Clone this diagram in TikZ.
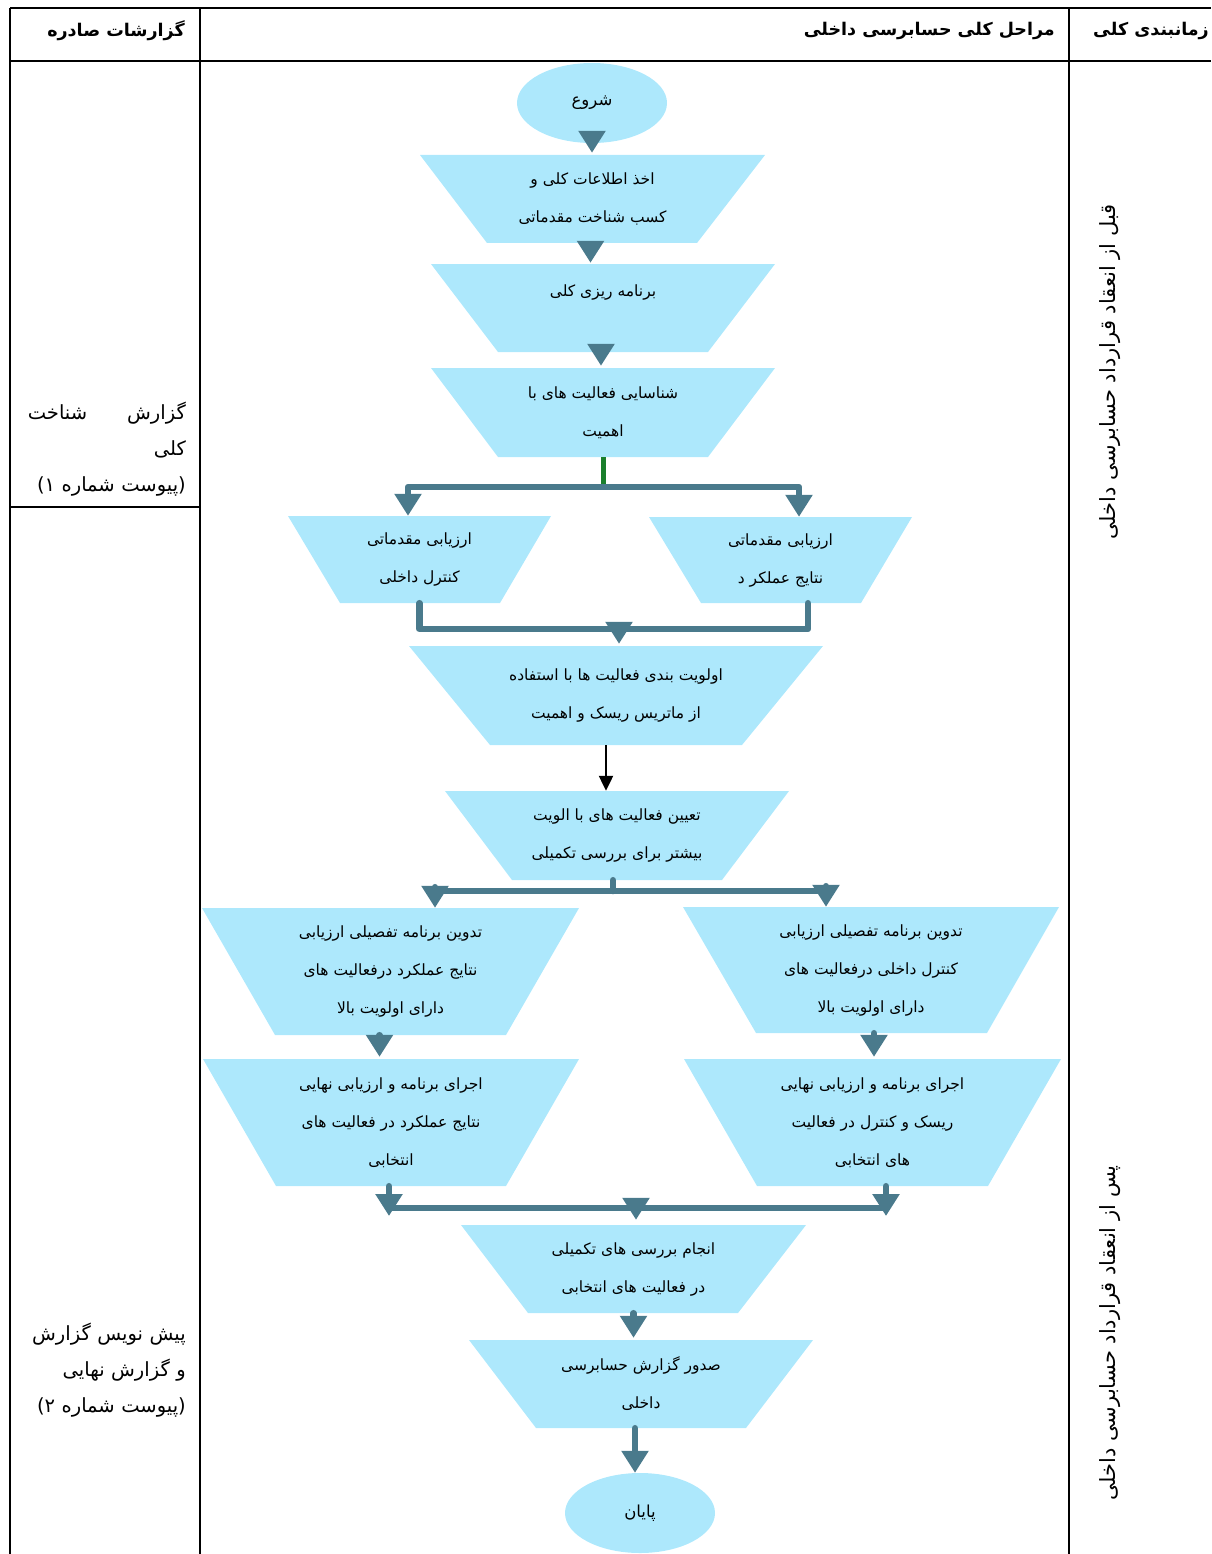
\documentclass[tikz,border=0pt]{standalone}
\usepackage{fontspec}
\newfontfamily\arabicfont[Script=Arabic]{DejaVu Sans}
\TeXXeTstate=1
\usetikzlibrary{arrows.meta,calc,shapes.geometric}
\newcommand\rl[1]{\beginR #1\endR}
\definecolor{trapfill}{HTML}{ADE8FC}
\definecolor{steel}{HTML}{4A7A8C}
\definecolor{greenline}{HTML}{1A7F2C}
\newcommand\trapz[8]{%
  \fill[trapfill] (#2,#6) -- (#3,#6) -- (#5,#7) -- (#4,#7) -- cycle;
  \node[trapnode, minimum width={#3-#2}, minimum height={#7-#6}] (#1) at ({(#2+#3)/2},{(#6+#7)/2}) {#8};}
\begin{document}
\begin{tikzpicture}[x=1pt,y=-1pt,
  trapnode/.style={inner sep=0pt, align=center, text=black, font=\arabicfont\fontsize{15.5}{38}\selectfont},
  ovalnode/.style={ellipse, fill=trapfill, inner sep=0pt, minimum width=150pt, minimum height=80pt, font=\arabicfont\fontsize{16.5}{38}\selectfont},
  flow/.style={draw=steel, line width=6.5pt, line cap=round, line join=round, -{Triangle[width=26pt,length=22pt]}},
  headonly/.style={draw=steel, line width=6.5pt, line cap=butt, -{Triangle[width=26pt,length=22pt]}},
  flowline/.style={draw=steel, line width=6.5pt, line cap=round, line join=round},
  blackflow/.style={draw=black, line width=2.2pt, -{Triangle[width=14pt,length=15pt]}},
  grid/.style={draw=black, line width=2pt},
  headtext/.style={font=\arabicfont\bfseries\fontsize{17.5}{20}\selectfont, inner sep=0pt},
  notetext/.style={font=\arabicfont\fontsize{19.5}{36}\selectfont, align=right, inner sep=0pt, text width=172pt},
  verttext/.style={font=\arabicfont\fontsize{21}{24}\selectfont, rotate=90, inner sep=0pt}]
\useasboundingbox (0,0) rectangle (1211,1554);
% table grid
\draw[grid] (10,8) -- (1211,8);
\draw[grid] (10,61) -- (1211,61);
\draw[grid] (10,8) -- (10,1554);
\draw[grid] (200,8) -- (200,1554);
\draw[grid] (1069,8) -- (1069,1554);
\draw[grid] (10,507) -- (200,507);
% headers
\node[headtext, anchor=east] (h1) at (185,31) {\rl{گزارشات صادره}};
\node[headtext, anchor=east] (h2) at (1055,31) {\rl{مراحل کلی حسابرسی داخلی}};
\node[headtext, anchor=east] (h3) at (1209,31) {\rl{زمانبندی کلی}};
% left notes
\node[notetext, anchor=east] (n1) at (186,449) {\hbox to 158pt{\beginR گزارش\hfill شناخت\endR}\\\rl{کلی}\\\rl{(پیوست شماره ۱)}};
\node[notetext, anchor=east] (n2) at (186,1370) {\rl{پیش نویس گزارش}\\\rl{و گزارش نهایی}\\\rl{(پیوست شماره ۲)}};
% vertical texts
\node[verttext] (v1) at (1110,372) {\rl{قبل از انعقاد قرارداد حسابرسی داخلی}};
\node[verttext] (v2) at (1110,1333) {\rl{پس از انعقاد قرارداد حسابرسی داخلی}};
% shapes
\node[ovalnode] (start) at (592,103) {\rl{شروع}};
\trapz{t1}{420}{765}{487}{697}{155}{243}{\rl{اخذ اطلاعات کلی و}\\\rl{کسب شناخت مقدماتی}}
\trapz{t2}{431}{775}{498}{708}{264}{352}{\rl{برنامه ریزی کلی}\\[-14pt]\strut}
\trapz{t3}{431}{775}{498}{708}{368}{457}{\rl{شناسایی فعالیت های با}\\\rl{اهمیت}}
\trapz{t4}{288}{551}{340}{500}{516}{603}{\rl{ارزیابی مقدماتی}\\\rl{کنترل داخلی}}
\trapz{t5}{649}{912}{701}{861}{517}{603}{\rl{ارزیابی مقدماتی}\\\rl{نتایج عملکر د}}
\trapz{t6}{409}{823}{490}{742}{646}{745}{\rl{اولویت بندی فعالیت ها با استفاده}\\\rl{از ماتریس ریسک و اهمیت}}
\trapz{t7}{445}{789}{512}{722}{791}{880}{\rl{تعیین فعالیت های با الویت}\\\rl{بیشتر برای بررسی تکمیلی}}
\trapz{t8}{202}{579}{275}{506}{908}{1035}{\rl{تدوین برنامه تفصیلی ارزیابی}\\\rl{نتایج عملکرد درفعالیت های}\\\rl{دارای اولویت بالا}}
\trapz{t9}{683}{1059}{756}{987}{907}{1033}{\rl{تدوین برنامه تفصیلی ارزیابی}\\\rl{کنترل داخلی درفعالیت های}\\\rl{دارای اولویت بالا}}
\trapz{t10}{203}{579}{276}{506}{1059}{1186}{\rl{اجرای برنامه و ارزیابی نهایی}\\\rl{نتایج عملکرد در فعالیت های}\\\rl{انتخابی}}
\trapz{t11}{684}{1061}{757}{988}{1059}{1186}{\rl{اجرای برنامه و ارزیابی نهایی}\\\rl{ریسک و کنترل در فعالیت}\\\rl{های انتخابی}}
\trapz{t12}{461}{806}{528}{738}{1225}{1313}{\rl{انجام بررسی های تکمیلی}\\\rl{در فعالیت های انتخابی}}
\trapz{t13}{469}{813}{536}{746}{1340}{1428}{\rl{صدور گزارش حسابرسی}\\\rl{داخلی}}
\node[ovalnode] (end) at (640,1513) {\rl{پایان}};
% junction coordinates
\coordinate (b1) at (603,487);
\coordinate (b1l) at (408,487);
\coordinate (b1r) at (799,487);
\coordinate (m1) at (619,629);
\coordinate (m1r) at (808,629);
\coordinate (b2) at (613,891);
\coordinate (b2l) at (435,891);
\coordinate (b2r) at (826,891);
\coordinate (j3) at (636,1208);
\coordinate (j3l) at (389,1216);
\coordinate (j3r) at (886,1216);
% connectors
\draw[headonly] (start.south) -- ([yshift=2pt]start.south |- t1.north);
\draw[headonly] ([xshift=-2pt]t1.south) -- ([xshift=-2pt,yshift=1pt]t1.south |- t2.north);
\draw[headonly] ([xshift=-2pt]t2.south) -- ([xshift=-2pt,yshift=2pt]t2.south |- t3.north);
\draw[draw=greenline, line width=5pt] (t3.south) -- (b1);
\draw[flow] (b1) -| (b1l |- t4.north);
\draw[flow] (b1) -| (b1r |- t5.north);
\draw[flowline] (t4.south) |- (m1r) -- (m1r |- t5.south);
\draw[headonly] (m1) -- ([yshift=2pt]m1 |- t6.north);
\draw[blackflow] ([xshift=-10pt]t6.south) -- ([xshift=-10pt]t6.south |- t7.north);
\draw[flowline] (b2 |- t7.south) -- (b2);
\draw[flow] (b2) -| (b2l |- t8.north);
\draw[flow] (b2) -| (b2r |- t9.north);
\draw[flow] ([xshift=-11pt]t8.south) -- ([xshift=-11pt,yshift=2pt]t8.south |- t10.north);
\draw[flow] ([xshift=3pt]t9.south) -- ([xshift=3pt,yshift=2pt]t9.south |- t11.north);
\draw[flow] (j3l |- t10.south) -- (j3l);
\draw[flow] (j3r |- t11.south) -- (j3r);
\draw[flowline] (j3l |- j3) -- (j3r |- j3);
\draw[headonly] (j3) -- ([yshift=5pt]j3 |- t12.north);
\draw[flow] (t12.south) -- ([yshift=2pt]t12.south |- t13.north);
\draw[flow] ([xshift=-6pt]t13.south) -- ([xshift=-6pt]t13.south |- end.north);
\end{tikzpicture}
\end{document}
